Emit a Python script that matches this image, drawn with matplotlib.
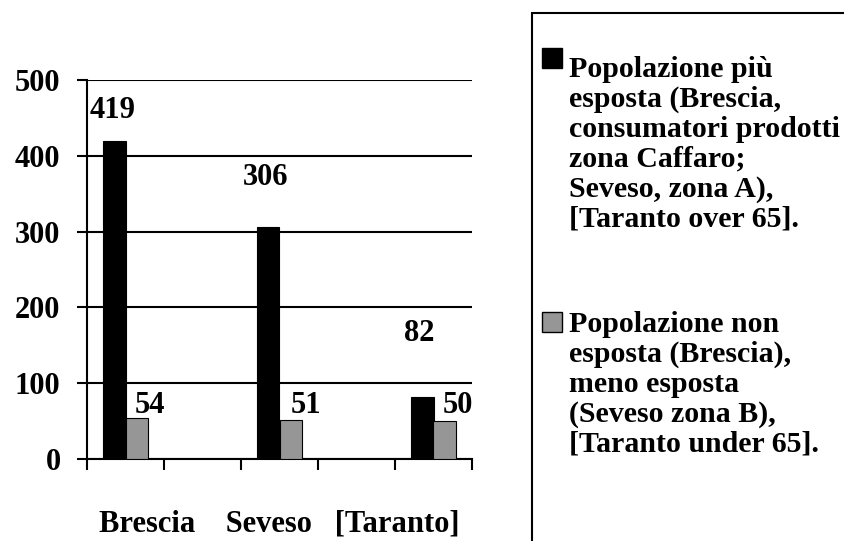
import numpy as np
import matplotlib.pyplot as plt
from matplotlib.patches import Rectangle

plt.rcParams['font.family'] = ['Liberation Serif', 'DejaVu Serif']
plt.rcParams['font.weight'] = 'bold'

# category slots: empty slots between the three sites, as in the original sheet
slots = ['Brescia', '', 'Seveso', '', '[Taranto]']
esposta = [419, np.nan, 306, np.nan, 82]
non_esposta = [54, np.nan, 51, np.nan, 50]

label_esposta = ('Popolazione più\nesposta (Brescia,\nconsumatori prodotti\n'
                 'zona Caffaro;\nSeveso, zona A),\n[Taranto over 65].')
label_non = ('Popolazione non\nesposta (Brescia),\nmeno esposta\n'
             '(Seveso zona B),\n[Taranto under 65].')

fs = 22
fs_leg = 21.5
grey = '#969696'

fig = plt.figure(figsize=(8.45, 5.41), dpi=100)
ax = fig.add_axes([87 / 845, 1 - 459 / 541, 385 / 845, 379 / 541])

x = np.arange(len(slots))
w = 0.29
ax.bar(x - w / 2, esposta, w, color='black', edgecolor='black', linewidth=0.8, zorder=3)
ax.bar(x + w / 2, non_esposta, w, color=grey, edgecolor='black', linewidth=0.8, zorder=3)

# data labels (placed like the Excel original, not exactly over the bars)
lab_dx_a = [-0.17, 0, -0.18, 0, -0.18]
lab_y_a = [460, 0, 372, 0, 166]
lab_dx_b = [0.32, 0, 0.35, 0, 0.32]
lab_y_b = [70, 0, 70, 0, 70]
for i in range(len(slots)):
    if np.isnan(esposta[i]):
        continue
    ax.text(x[i] + lab_dx_a[i], lab_y_a[i], f'{esposta[i]:.0f}', ha='center', va='center',
            fontsize=fs, fontweight='bold')
    ax.text(x[i] + lab_dx_b[i], lab_y_b[i], f'{non_esposta[i]:.0f}', ha='center', va='center',
            fontsize=fs, fontweight='bold')

ax.set_xlim(-0.5, len(slots) - 0.5)
ax.set_ylim(0, 500)
ax.set_yticks(np.arange(0, 501, 100))
ax.set_xticks(np.arange(-0.5, len(slots), 1))
ax.set_xticklabels([])
ax.yaxis.grid(True, color='black', linewidth=1.5, zorder=0)
ax.set_axisbelow(True)
ax.tick_params(axis='y', direction='out', length=7, width=1.5, pad=12, labelsize=fs)
ax.tick_params(axis='x', direction='out', length=8, width=1.5)
for s in ['top', 'right']:
    ax.spines[s].set_visible(False)
for s in ['left', 'bottom']:
    ax.spines[s].set_linewidth(1.5)
for t in ax.get_yticklabels():
    t.set_fontweight('bold')

ax.set_xlabel('Brescia    Seveso   [Taranto]', fontsize=fs, fontweight='bold', labelpad=25)

# legend box, running off the right and bottom edge like the original
fig.patches.append(Rectangle((532 / 845, -0.1), 0.5, 0.1 + 1 - 13 / 541,
                             transform=fig.transFigure, facecolor='none',
                             edgecolor='black', linewidth=1.5))
fig.patches.append(Rectangle((542 / 845, 1 - 68 / 541), 20 / 845, 20 / 541,
                             transform=fig.transFigure, facecolor='black',
                             edgecolor='black', linewidth=1))
fig.patches.append(Rectangle((542 / 845, 1 - 332 / 541), 20 / 845, 20 / 541,
                             transform=fig.transFigure, facecolor=grey,
                             edgecolor='black', linewidth=1))
fig.text(569 / 845, 1 - 56 / 541, label_esposta, ha='left', va='top',
         fontsize=fs_leg, fontweight='bold', linespacing=1.13)
fig.text(569 / 845, 1 - 311 / 541, label_non, ha='left', va='top',
         fontsize=fs_leg, fontweight='bold', linespacing=1.13)

fig.savefig('out.png', dpi=100)
